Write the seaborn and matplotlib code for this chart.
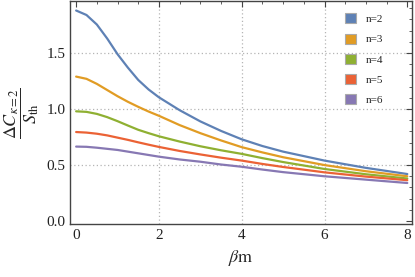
import numpy as np
import pandas as pd
import matplotlib
matplotlib.use("Agg")
import matplotlib.pyplot as plt
from matplotlib.patches import Patch
from matplotlib.ticker import MultipleLocator
import seaborn as sns

# values
beta_m = [0, 0.25, 0.5, 0.75, 1, 1.25, 1.5, 1.75, 2, 2.5, 3, 3.5, 4, 4.5, 5, 6, 7, 8]
n2 = [1.88, 1.84, 1.755, 1.63, 1.49, 1.37, 1.26, 1.175, 1.105, 0.99, 0.89, 0.805, 0.73, 0.67, 0.62, 0.54, 0.475, 0.42]
n3 = [1.29, 1.27, 1.225, 1.17, 1.115, 1.065, 1.02, 0.978, 0.94, 0.857, 0.785, 0.72, 0.66, 0.613, 0.57, 0.50, 0.445, 0.40]
n4 = [0.98, 0.975, 0.957, 0.928, 0.892, 0.853, 0.815, 0.785, 0.757, 0.71, 0.668, 0.632, 0.60, 0.562, 0.527, 0.465, 0.418, 0.38]
n5 = [0.795, 0.79, 0.78, 0.765, 0.745, 0.725, 0.703, 0.682, 0.662, 0.626, 0.595, 0.566, 0.54, 0.51, 0.483, 0.435, 0.397, 0.365]
n6 = [0.665, 0.663, 0.655, 0.645, 0.635, 0.62, 0.605, 0.59, 0.575, 0.55, 0.53, 0.505, 0.485, 0.46, 0.437, 0.40, 0.37, 0.34]
labels = ["n=2", "n=3", "n=4", "n=5", "n=6"]
colors = ["#5E81B5", "#E19C24", "#8FB032", "#EB6235", "#8778B3"]

df = pd.concat([
    pd.DataFrame({"x": beta_m, "y": vals, "n": lab})
    for vals, lab in zip([n2, n3, n4, n5, n6], labels)
])

sns.set_style("white")
plt.rcParams["font.family"] = ["Liberation Serif", "DejaVu Serif"]
plt.rcParams["mathtext.fontset"] = "stix"

fig = plt.figure(figsize=(4.15, 2.77), dpi=100)
ax = fig.add_axes([0.169, 0.191, 0.824, 0.805])

# dotted grid lines
for gx in [2, 4, 6]:
    ax.axvline(gx, color="#b5b5b5", lw=0.9, ls=(0, (1, 2)), zorder=0)
for gy in [0.5, 1.0, 1.5]:
    ax.axhline(gy, color="#b5b5b5", lw=0.9, ls=(0, (1, 2)), zorder=0)

sns.lineplot(data=df, x="x", y="y", hue="n", palette=colors, lw=1.6, ax=ax, legend=False)
for ln in ax.get_lines():
    ln.set_solid_joinstyle("round")

ax.set_xlim(-0.145, 8.116)
ax.set_ylim(-0.027, 1.964)
ax.xaxis.set_major_locator(MultipleLocator(2))
ax.xaxis.set_minor_locator(MultipleLocator(0.5))
ax.yaxis.set_major_locator(MultipleLocator(0.5))
ax.yaxis.set_minor_locator(MultipleLocator(0.1))
ax.set_yticks([0.0, 0.5, 1.0, 1.5])
ax.set_yticklabels(["0.0", "0.5", "1.0", "1.5"])
ax.tick_params(which="both", direction="in", top=True, right=True, color="#444444",
               labelsize=11, labelcolor="#222222")
ax.tick_params(which="major", length=4, width=0.8)
ax.tick_params(which="minor", length=2, width=0.6)
for s in ax.spines.values():
    s.set_color("#444444")
    s.set_linewidth(1.0)

ax.set_xlabel(r"$\beta\mathrm{m}$", fontsize=13, labelpad=4)
ax.set_ylabel(r"$\dfrac{\Delta C_{\kappa=2}}{S_{\mathrm{th}}}$", fontsize=13, labelpad=4)

handles = [Patch(facecolor=c, edgecolor="#aaaaaa", lw=0.8) for c in colors]
ax.legend(handles, labels, loc="upper right", bbox_to_anchor=(0.945, 0.99), frameon=False,
          fontsize=8, handlelength=1.0, handleheight=1.0, labelspacing=0.85, handletextpad=0.9)

fig.savefig("out.png", dpi=100)
